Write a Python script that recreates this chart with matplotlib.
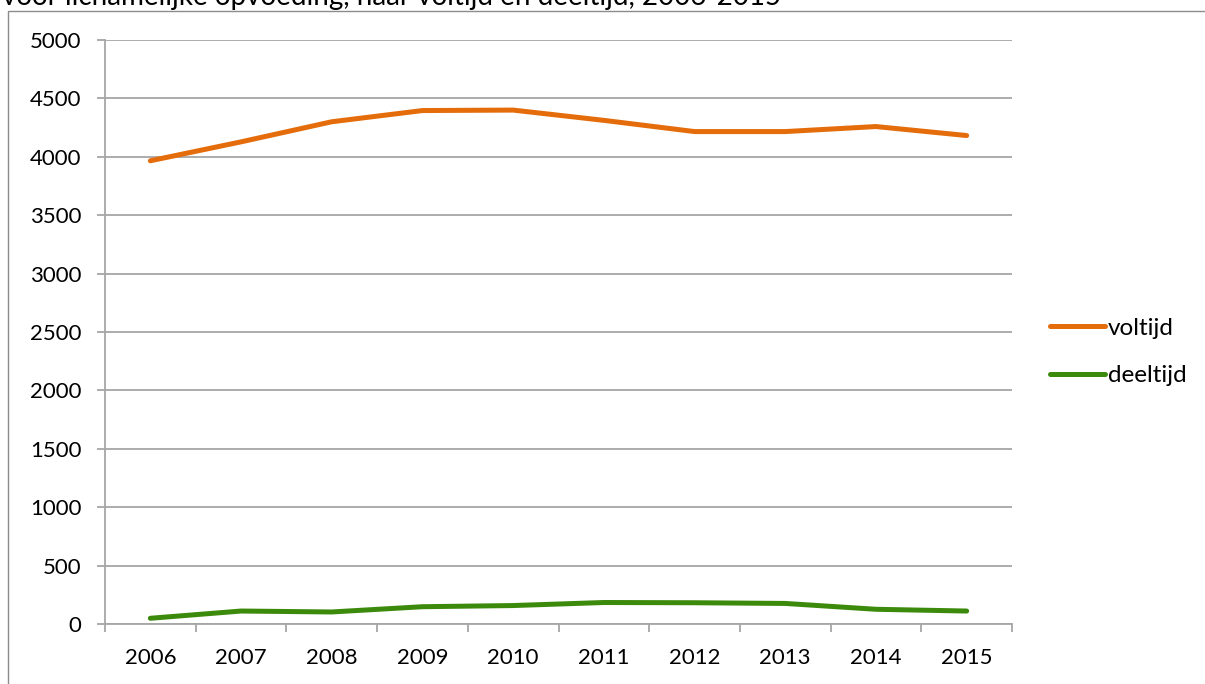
import matplotlib
matplotlib.use("Agg")
import matplotlib.pyplot as plt
from matplotlib.patches import Rectangle
from matplotlib.ticker import FixedLocator, MultipleLocator


YEARS = ["2006", "2007", "2008", "2009", "2010", "2011", "2012", "2013", "2014", "2015"]
VOLTIJD = [3966, 4128, 4300, 4396, 4400, 4312, 4216, 4216, 4259, 4182]
DEELTIJD = [49, 111, 103, 148, 158, 184, 182, 176, 126, 111]
TITLE = "voor lichamelijke opvoeding, naar voltijd en deeltijd, 2006-2015"

ORANGE = "#E46C0A"
GREEN = "#3C8A0C"
GRID = "#A6A6A6"
FONT = "Lato"
FS = 16

W, H = 1205, 684


def main():
    plt.rcParams["font.family"] = [FONT, "DejaVu Sans"]
    fig = plt.figure(figsize=(W / 100, H / 100), dpi=100)
    ax = fig.add_axes([105 / W, (H - 624) / H, (1012 - 105) / W, (624 - 40) / H])

    x = list(range(len(YEARS)))
    ax.plot(x, VOLTIJD, color=ORANGE, lw=3.6, solid_capstyle="round",
            solid_joinstyle="round", label="voltijd")
    ax.plot(x, DEELTIJD, color=GREEN, lw=3.6, solid_capstyle="round",
            solid_joinstyle="round", label="deeltijd")

    ax.set_xlim(-0.5, len(YEARS) - 0.5)
    ax.set_ylim(0, 5000)
    ax.yaxis.set_major_locator(MultipleLocator(500))
    ax.set_xticks(x)
    ax.set_xticklabels(YEARS)
    ax.xaxis.set_minor_locator(FixedLocator([i - 0.5 for i in range(len(YEARS) + 1)]))

    ax.grid(axis="y", color=GRID, lw=1.3)
    ax.set_axisbelow(True)
    for side in ["top", "right"]:
        ax.spines[side].set_visible(False)
    for side in ["left", "bottom"]:
        ax.spines[side].set_color(GRID)
        ax.spines[side].set_linewidth(1.3)

    ax.tick_params(axis="x", which="major", length=0, pad=17, labelsize=FS)
    ax.tick_params(axis="x", which="minor", length=6, width=1.3, color=GRID, direction="out")
    ax.tick_params(axis="y", length=6, width=1.3, color=GRID, pad=11, labelsize=FS)

    fig.legend(loc="center left", bbox_to_anchor=(1050 / W, 1 - 352 / H),
               frameon=False, fontsize=17.5, handlelength=2.25, handletextpad=0.12,
               labelspacing=1.1, borderaxespad=0, borderpad=0)

    fig.text(0.0015, 1 - 5 / H, TITLE, fontsize=20, va="baseline", ha="left")
    fig.patches.append(Rectangle((8 / W, -0.01), 1.0, 1 - 11 / H + 0.01,
                                 transform=fig.transFigure, fill=False,
                                 edgecolor="#8C8C8C", lw=1.0))

    fig.savefig("out.png", dpi=100)
    plt.close(fig)


if __name__ == "__main__":
    main()
